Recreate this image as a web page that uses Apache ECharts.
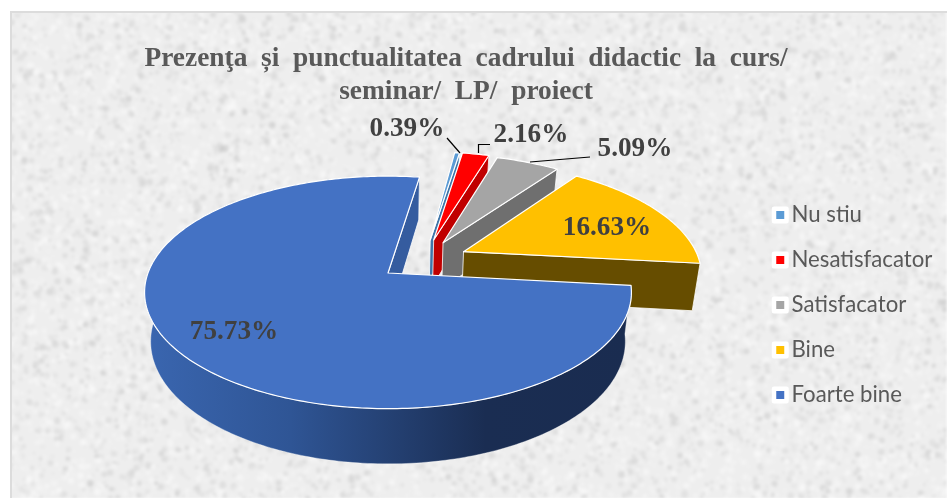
<!DOCTYPE html>
<html>
<head>
<meta charset="utf-8">
<title>Prezența și punctualitatea</title>
<style>
  html, body { margin: 0; padding: 0; background: #fff; }
  #chart { width: 947px; height: 499px; }
</style>
<script src="https://cdn.jsdelivr.net/npm/echarts@6/dist/echarts.min.js"></script>
</head>
<body>
<div id="chart"></div>
<script>
const categories = ['Nu stiu', 'Nesatisfacator', 'Satisfacator', 'Bine', 'Foarte bine']
const percents = [0.39, 2.16, 5.09, 16.63, 75.73]
const titleLines = ['Prezenţa  și  punctualitatea  cadrului  didactic  la  curs/', 'seminar/  LP/  proiect']

const topColors = ['#5b9bd5', '#ff0000', '#a5a5a5', '#ffc000', '#4472c4']
const wallColors = ['#3f75a8', '#c00000', '#6f6f6f', '#664d00', '#1a2c50']

// pie layout: angles are clockwise from the back, offsets are in pie radii
const START_ANGLE = 8.8
const explode = [[0.185, 0.307], [0.2, 0.307], [0.24, 0.28], [0.325, 0.195], [0, 0]]
const labelPos = [[407, 129], [531, 135], [635, 149], [607, 228], [234, 332]]
const leaders = [
  [[447, 138], [460, 153]],
  [[490, 144.5], [478.5, 144.5], [478.5, 153]],
  [[590, 157], [530, 162]],
  null,
  null,
]
const pie = { cx: 388, cy: 273, b: 240, a: 113, k: 0.167, b2: 234, a2: 119, depth: 48 }

function project(u, v, bottom) {
  const s = 1 / (1 + pie.k * v)
  return bottom
    ? [pie.cx + pie.b2 * u * s, pie.cy + pie.depth - pie.a2 * v * s]
    : [pie.cx + pie.b * u * s, pie.cy - pie.a * v * s]
}

function rimPoint(deg, off, bottom) {
  const r = deg * Math.PI / 180
  return project(Math.sin(r) + off[0], Math.cos(r) + off[1], bottom)
}

// soft blotchy paper texture behind the chart, blurred once at the end
function makeTexture() {
  const spots = document.createElement('canvas')
  spots.width = 947
  spots.height = 499
  const sctx = spots.getContext('2d')
  sctx.fillStyle = '#eeeeee'
  sctx.fillRect(0, 0, spots.width, spots.height)
  let seed = 12345
  const next = () => (seed = (seed * 1664525 + 1013904223) % 4294967296) / 4294967296
  for (let i = 0; i < 14000; i++) {
    const shade = next() < 0.55 ? 250 : 218 - Math.floor(next() * 18)
    sctx.fillStyle = `rgba(${shade},${shade},${shade},${0.2 + next() * 0.4})`
    sctx.beginPath()
    sctx.arc(next() * spots.width, next() * spots.height, 1 + next() * 2.5, 0, 6.3)
    sctx.fill()
  }
  const c = document.createElement('canvas')
  c.width = spots.width
  c.height = spots.height
  const ctx = c.getContext('2d')
  ctx.filter = 'blur(1.4px)'
  ctx.drawImage(spots, 0, 0)
  return c
}

let acc = START_ANGLE
const spans = percents.map(p => {
  const from = acc
  acc += p * 3.6
  return [from, acc]
})

function renderSlice(i) {
  const [from, to] = spans[i]
  const off = explode[i]

  const topRim = []
  const bottomRim = []
  for (let d = from; d < to; d += 1) {
    topRim.push(rimPoint(d, off, false))
    bottomRim.push(rimPoint(d, off, true))
  }
  topRim.push(rimPoint(to, off, false))
  bottomRim.push(rimPoint(to, off, true))

  const apexTop = project(off[0], off[1], false)
  const apexBottom = project(off[0], off[1], true)

  const wallFill = i === 4
    ? new echarts.graphic.LinearGradient(0, 0, 1, 0, [
        { offset: 0, color: '#3a66b0' },
        { offset: 0.3, color: '#2f5595' },
        { offset: 0.7, color: '#1a2d52' },
        { offset: 1, color: '#1a2c50' },
      ])
    : wallColors[i]

  const children = [
    {
      type: 'polygon',
      silent: true,
      shape: { points: topRim.concat(bottomRim.slice().reverse()) },
      style: { fill: wallFill, stroke: i === 4 ? 'rgba(255,255,255,0.5)' : '#fff', lineWidth: 0.7 },
    },
    {
      type: 'polygon',
      silent: true,
      shape: { points: [apexTop, topRim[topRim.length - 1], bottomRim[bottomRim.length - 1], apexBottom] },
      style: { fill: i === 4 ? '#355c9f' : wallColors[i], stroke: '#fff', lineWidth: 0.8 },
    },
    {
      type: 'polygon',
      silent: true,
      shape: { points: [apexTop].concat(topRim) },
      style: { fill: topColors[i], stroke: '#fff', lineWidth: 1.2, lineJoin: 'round' },
    },
  ]

  if (leaders[i]) {
    children.push({
      type: 'polyline',
      silent: true,
      shape: { points: leaders[i] },
      style: { stroke: '#000', lineWidth: 1.2, fill: null },
    })
  }
  children.push({
    type: 'text',
    silent: true,
    x: labelPos[i][0],
    y: labelPos[i][1],
    style: {
      text: percents[i].toFixed(2) + '%',
      font: 'bold 27.2px "Liberation Serif"',
      fill: '#404040',
      align: 'center',
      verticalAlign: 'middle',
    },
  })
  return { type: 'group', children }
}

const chart = echarts.init(document.getElementById('chart'), null, { renderer: 'canvas' })

chart.setOption({
  animation: false,
  backgroundColor: '#fff',
  title: {
    text: titleLines.join('\n'),
    left: 461,
    top: 37,
    textAlign: 'center',
    textStyle: {
      fontFamily: '"Liberation Serif"',
      fontWeight: 'bold',
      fontSize: 27.4,
      lineHeight: 33,
      color: '#595959',
    },
  },
  legend: {
    orient: 'vertical',
    left: 766.75,
    top: 196,
    itemWidth: 12.5,
    itemHeight: 12.5,
    itemGap: 17,
    icon: 'rect',
    selectedMode: false,
    itemStyle: { borderColor: '#fff', borderWidth: 4.5, borderJoin: 'round' },
    textStyle: { fontFamily: 'Lato', fontSize: 22.2, color: '#595959', lineHeight: 28 },
    data: categories,
  },
  graphic: [
    {
      type: 'rect',
      z: -10,
      silent: true,
      shape: { x: 11, y: 12, width: 936, height: 486 },
      style: { fill: { image: makeTexture(), repeat: 'repeat' } },
    },
    {
      type: 'polyline',
      z: -9,
      silent: true,
      shape: { points: [[11, 498], [11, 12], [947, 12]] },
      style: { stroke: '#dcdcdc', lineWidth: 2, fill: null },
    },
  ],
  series: categories.map((name, i) => ({
    type: 'custom',
    name,
    coordinateSystem: 'none',
    silent: true,
    z: 2 + i,
    itemStyle: { color: topColors[i] },
    data: [percents[i]],
    renderItem: () => renderSlice(i),
  })),
})
</script>
</body>
</html>
